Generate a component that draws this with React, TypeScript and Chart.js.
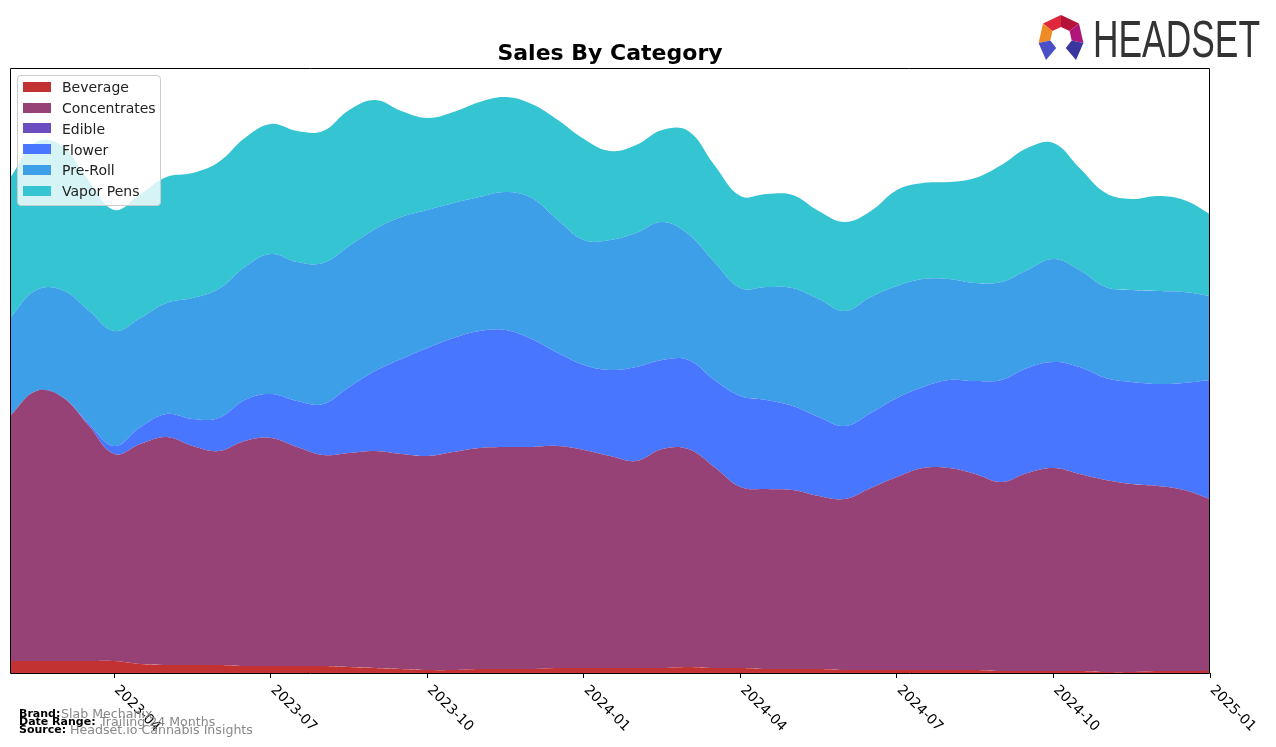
import React, { useEffect, useRef } from "react";
import { Chart, registerables } from "chart.js";

Chart.register(...registerables);

// x positions: months since 2023-02 (half-month steps)
const monthPos = [0, 0.5, 1, 1.5, 2, 2.5, 3, 3.5, 4, 4.5, 5, 5.5, 6, 6.5, 7, 7.5, 8, 8.5, 9, 9.5, 10, 10.5, 11, 11.5, 12, 12.5, 13, 13.5, 14, 14.5, 15, 15.5, 16, 16.5, 17, 17.5, 18, 18.5, 19, 19.5, 20, 20.5, 21, 21.5, 22, 22.5, 23];

const beverage = [12, 12, 12, 12, 12, 9, 8, 8, 8, 7, 7, 7, 7, 6, 5, 4, 3, 3, 4, 4, 4, 5, 5, 5, 5, 5, 6, 5, 5, 4, 4, 4, 3, 3, 3, 3, 3, 3, 2, 2, 2, 2, 1, 1, 2, 2, 2];
const concentrates = [245, 270, 264, 236, 207, 220, 228, 219, 214, 225, 228, 219, 211, 214, 217, 215, 214, 218, 221, 222, 222, 222, 218, 212, 207, 219, 218, 201, 181, 180, 179, 173, 171, 182, 193, 202, 202, 196, 189, 198, 203, 197, 192, 188, 185, 181, 172];
const edible = [0, 0, 0, 0, 0, 0, 0, 0, 0, 0, 0, 0, 0, 0, 0, 0, 0, 0, 0, 0, 0, 0, 0, 0, 0, 0, 0, 0, 0, 0, 0, 0, 0, 0, 0, 0, 0, 0, 0, 0, 0, 0, 0, 0, 0, 0, 0];
const flower = [0, 0, 0, 2, 8, 17, 23, 27, 33, 41, 44, 46, 51, 66, 80, 95, 108, 114, 117, 117, 108, 93, 85, 86, 94, 89, 89, 87, 91, 89, 84, 79, 73, 75, 79, 81, 88, 93, 102, 105, 106, 107, 102, 102, 102, 107, 119];
const preRoll = [98, 101, 107, 113, 115, 109, 111, 121, 129, 133, 140, 139, 141, 141, 142, 142, 138, 135, 134, 138, 141, 133, 125, 130, 134, 138, 126, 118, 108, 113, 118, 118, 115, 116, 112, 108, 101, 98, 98, 98, 103, 97, 91, 92, 93, 91, 84];
const vaporPens = [140, 148, 144, 130, 121, 124, 126, 125, 127, 129, 130, 131, 132, 136, 129, 106, 92, 91, 95, 95, 94, 100, 101, 89, 88, 92, 103, 97, 92, 93, 93, 88, 89, 86, 96, 96, 97, 105, 117, 122, 116, 102, 94, 91, 95, 92, 82];

const categories = ["Beverage", "Concentrates", "Edible", "Flower", "Pre-Roll", "Vapor Pens"];
const colors = ["#c23232", "#964277", "#6c4dbf", "#4876ff", "#3d9fe8", "#34c4d2"];
const seriesValues = [beverage, concentrates, edible, flower, preRoll, vaporPens];

const tickPositions = [2, 5, 8, 11, 14, 17, 20, 23];
const tickLabels = ["2023-04", "2023-07", "2023-10", "2024-01", "2024-04", "2024-07", "2024-10", "2025-01"];

const Y_MAX = 605;

const framePlugin = {
  id: "frameAndLabels",
  afterDraw(chart: any) {
    const { ctx, chartArea: a, scales } = chart;
    ctx.save();
    ctx.strokeStyle = "#000";
    ctx.lineWidth = 1;
    const l = Math.round(a.left) + 0.5;
    const t = Math.round(a.top) + 0.5;
    const r = Math.round(a.right) - 0.5;
    const b = Math.round(a.bottom) + 0.5;
    ctx.beginPath();
    ctx.rect(l, t, r - l, b - t);
    ctx.stroke();
    ctx.fillStyle = "#000";
    ctx.font = '14px "DejaVu Sans"';
    ctx.textAlign = "left";
    ctx.textBaseline = "top";
    tickPositions.forEach((v, i) => {
      const x = scales.x.getPixelForValue(v);
      ctx.save();
      ctx.translate(x + 7, a.bottom + 10);
      ctx.rotate(Math.PI / 4);
      ctx.fillText(tickLabels[i], 0, 0);
      ctx.restore();
    });
    ctx.restore();
  },
};

function ChartCanvas() {
  const ref = useRef<HTMLCanvasElement | null>(null);
  useEffect(() => {
    if (!ref.current) return;
    const datasets = categories.map((name, i) => ({
      label: name,
      data: monthPos.map((x, j) => ({ x, y: seriesValues[i][j] })),
      backgroundColor: colors[i],
      borderColor: "transparent",
      borderWidth: 0,
      pointRadius: 0,
      fill: i === 0 ? "origin" : "-1",
      tension: 0.4,
    }));
    const chart = new Chart(ref.current, {
      type: "line",
      data: { datasets },
      options: {
        animation: false,
        responsive: false,
        events: [],
        layout: { padding: { left: 10, right: 66, top: 68, bottom: 69 } },
        plugins: { legend: { display: false }, title: { display: false }, tooltip: { enabled: false } },
        scales: {
          x: {
            type: "linear",
            min: 0,
            max: 23,
            afterBuildTicks: (s: any) => {
              s.ticks = tickPositions.map((v) => ({ value: v }));
            },
            ticks: { display: false },
            grid: { display: true, drawOnChartArea: false, drawTicks: true, tickLength: 5, color: "#000", lineWidth: 1 },
            border: { display: false },
          },
          y: { display: false, stacked: true, min: 0, max: Y_MAX },
        },
      },
      plugins: [framePlugin],
    });
    return () => chart.destroy();
  }, []);
  return <canvas ref={ref} width={1276} height={747} style={{ position: "absolute", left: 0, top: 0 }} />;
}

function Logo() {
  return (
    <div style={{ position: "absolute", left: 1036, top: 12, width: 240, height: 52 }}>
      <svg width="50" height="50" viewBox="0 0 50 50" style={{ position: "absolute", left: 0, top: 0 }}>
        <polygon points="25,3 43,11.6 33.6,19.1 25,15" fill="#b5123a" />
        <polygon points="7,11.6 25,3 25,15 16.4,19.1" fill="#e0283c" />
        <polygon points="43,11.6 47.4,31.1 35.7,28.5 33.6,19.1" fill="#b0157a" />
        <polygon points="2.6,31.1 7,11.6 16.4,19.1 14.3,28.5" fill="#f08a24" />
        <polygon points="47.4,31.1 40,48 29.8,35.9 35.7,28.5" fill="#3b35a0" />
        <polygon points="2.6,31.1 14.3,28.5 20.2,35.9 10,48" fill="#4a4fc8" />
      </svg>
      <div
        style={{
          position: "absolute",
          left: 57,
          top: -3,
          fontFamily: '"Liberation Sans", Arial, sans-serif',
          fontSize: 52,
          lineHeight: "60px",
          color: "#333",
          transform: "scaleX(0.68)",
          transformOrigin: "left top",
          whiteSpace: "nowrap",
        }}
      >
        HEADSET
      </div>
    </div>
  );
}

function Legend() {
  const top0 = 87;
  const step = 20.7;
  return (
    <div>
      <div
        style={{
          position: "absolute",
          left: 17,
          top: 75,
          width: 142,
          height: 129,
          border: "1px solid #cccccc",
          borderRadius: 4,
          background: "rgba(255,255,255,0.8)",
        }}
      />
      {categories.map((c, i) => {
        const cy = top0 + i * step;
        return (
          <React.Fragment key={c}>
            <div style={{ position: "absolute", left: 23, top: cy - 5, width: 28, height: 10, background: colors[i] }} />
            <div
              style={{
                position: "absolute",
                left: 62,
                top: cy - 6.6,
                fontFamily: '"DejaVu Sans", sans-serif',
                fontSize: 14,
                lineHeight: "14px",
                color: "#222",
                whiteSpace: "nowrap",
              }}
            >
              {c}
            </div>
          </React.Fragment>
        );
      })}
    </div>
  );
}

function Footer() {
  const lab: React.CSSProperties = { fontFamily: '"DejaVu Sans", sans-serif', fontWeight: "bold", fontSize: 11, color: "#000" };
  const val: React.CSSProperties = { fontFamily: '"DejaVu Sans", sans-serif', fontSize: 12.6, color: "#888" };
  const rows = [
    { l: "Brand:", v: "Slab Mechanix", top: 708, vx: 61 },
    { l: "Date Range:", v: "Trailing 24 Months", top: 716, vx: 100 },
    { l: "Source:", v: "Headset.io Cannabis Insights", top: 724, vx: 70 },
  ];
  return (
    <>
      {rows.map((r) => (
        <React.Fragment key={r.l}>
          <div style={{ position: "absolute", left: 19, top: r.top, lineHeight: "12px", whiteSpace: "nowrap", ...lab }}>{r.l}</div>
          <div style={{ position: "absolute", left: r.vx, top: r.top - 0.5, lineHeight: "12px", whiteSpace: "nowrap", ...val }}>{r.v}</div>
        </React.Fragment>
      ))}
    </>
  );
}

export default function App() {
  useEffect(() => {
    document.body.style.margin = "0";
  }, []);
  return (
    <div style={{ position: "fixed", left: 0, top: 0, width: 1276, height: 747, background: "#fff", overflow: "hidden" }}>
      <ChartCanvas />
      <div
        style={{
          position: "absolute",
          left: 10,
          width: 1200,
          top: 41.5,
          textAlign: "center",
          fontFamily: '"DejaVu Sans", sans-serif',
          fontWeight: "bold",
          fontSize: 22,
          lineHeight: "22px",
          color: "#000",
        }}
      >
        Sales By Category
      </div>
      <Legend />
      <Footer />
      <Logo />
    </div>
  );
}
